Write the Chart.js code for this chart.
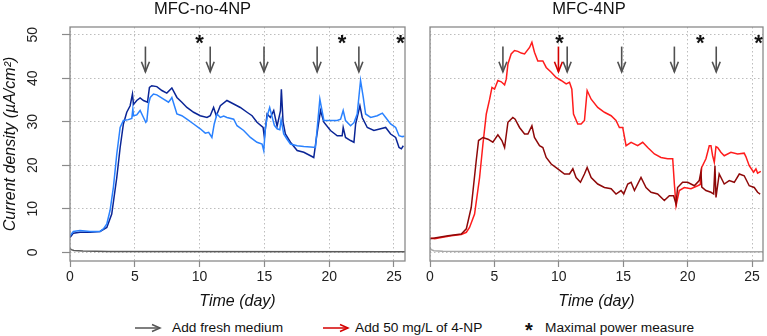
<!DOCTYPE html>
<html><head><meta charset="utf-8">
<script src="https://cdn.jsdelivr.net/npm/chart.js@4.4.1/dist/chart.umd.min.js"></script>
<style>
html,body{margin:0;padding:0;background:#fff;width:767px;height:336px;overflow:hidden;font-family:"Liberation Sans",Arial,sans-serif;}
canvas{position:absolute;top:0;}
#c1{left:0;}
#c2{left:415px;}
.li{position:absolute;top:319px;white-space:nowrap;line-height:17px;font-size:13.7px;color:#111;}
svg.la{position:absolute;top:323px;}
</style></head><body>
<canvas id="c1" width="415" height="312"></canvas>
<canvas id="c2" width="352" height="312"></canvas>
<svg class="la" style="left:134px" width="28" height="10"><line x1="1" y1="5" x2="26" y2="5" stroke="#555" stroke-width="1.5"/><path d="M18 1.5 L26 5 L18 8.5" fill="none" stroke="#555" stroke-width="1.5"/></svg>
<div class="li" style="left:172px">Add fresh medium</div>
<svg class="la" style="left:322px" width="28" height="10"><line x1="1" y1="5" x2="26" y2="5" stroke="#d40000" stroke-width="1.5"/><path d="M18 1.5 L26 5 L18 8.5" fill="none" stroke="#d40000" stroke-width="1.5"/></svg>
<div class="li" style="left:355px">Add 50 mg/L of 4-NP</div>
<div class="li" style="left:525px;font-size:20px;font-weight:bold;top:322px">*</div>
<div class="li" style="left:545px">Maximal power measure</div>
<script>
// ---------- data (day, current density µA/cm²) ----------
const xTicks = [0, 5, 10, 15, 20, 25];
const yTicks = [0, 10, 20, 30, 40, 50];

const noNP_lightBlue = [[0,3.8],[0.26,4.8],[0.77,5.0],[1.55,4.8],[2.32,4.8],[2.58,5.4],[2.84,6.5],[3.09,9.6],[3.35,15],[3.61,22.6],[3.87,28.7],[4.12,30.3],[4.5,30.5],[4.77,30.8],[4.85,33],[4.9,31.4],[5.15,31.6],[5.41,32.6],[5.67,31],[5.85,29.9],[5.93,30.2],[6.06,34.1],[6.19,35.6],[6.44,36.4],[6.7,36.2],[7.22,35.2],[7.6,34.5],[7.73,35],[7.86,35.6],[8.25,31.8],[8.63,31.4],[9.02,30.6],[9.54,29.5],[10.05,28.4],[10.44,27.4],[10.7,27.6],[10.95,26.4],[11.13,29.5],[11.34,31.8],[11.6,31],[11.86,31.3],[12.11,31],[12.63,30.6],[12.89,29.1],[13.4,28],[13.92,26.4],[14.43,25.3],[14.82,24.9],[14.95,23.4],[15.08,28.7],[15.26,31.8],[15.41,33.3],[15.59,31.2],[15.77,29.2],[15.98,28.4],[16.19,28.2],[16.29,30.5],[16.49,27.2],[16.75,26],[17.01,24.9],[17.53,24.5],[18.04,24.3],[18.56,24.2],[18.94,24.1],[19.07,28.4],[19.28,35.2],[19.59,30.3],[20.1,30.3],[20.62,30.3],[20.88,30.6],[21.08,32.6],[21.26,30.3],[21.65,29.1],[21.91,29.8],[22.16,31.8],[22.42,39.5],[22.63,35.6],[22.81,31.8],[23.2,31],[23.71,31.4],[24.1,32],[24.36,31],[24.74,29.5],[25.13,28.7],[25.39,26.8],[25.64,26.6],[25.8,26.7]];

const noNP_darkBlue = [[0,3.4],[0.26,4.4],[0.77,4.6],[1.55,4.6],[2.32,4.8],[2.84,5.7],[3.22,8.8],[3.61,17.2],[3.87,24.1],[4.12,29.5],[4.38,32.2],[4.64,33.7],[4.82,36.4],[4.9,34],[5.15,34.9],[5.41,35.5],[5.67,34.9],[5.98,34.5],[6.13,37.9],[6.31,38.3],[6.7,38.1],[7.09,37.2],[7.47,36.6],[7.86,37.8],[8.25,35.6],[8.63,34.5],[9.02,33.3],[9.54,32.2],[10.05,31.4],[10.57,31],[10.82,31.4],[11.08,33.3],[11.29,31.4],[11.6,33.7],[12.11,34.9],[12.63,34.1],[13.14,33.3],[13.66,32.2],[14.05,31.4],[14.43,29.9],[14.9,28.7],[15.0,26.4],[15.21,31.8],[15.46,31.0],[15.72,32.6],[15.98,29],[16.24,32.5],[16.31,37.5],[16.44,30],[16.62,27.2],[17.01,25.3],[17.53,23.4],[18.04,23],[18.56,22.2],[18.81,21.8],[19.02,26.4],[19.33,32.6],[19.59,29.9],[20.1,28],[20.62,26.8],[21.0,26.8],[21.08,28.7],[21.26,26.4],[21.65,25.7],[21.91,25.3],[22.04,29.5],[22.37,33.7],[22.55,31],[22.94,28.7],[23.45,28],[23.97,28.4],[24.36,28.7],[24.74,27.2],[25.13,26.4],[25.39,24.1],[25.57,23.8],[25.72,24.5]];

const NP_red = [[0,3.3],[0.36,3.1],[0.88,3.4],[1.65,3.8],[2.43,4.1],[2.82,4.6],[3.07,5.7],[3.46,8.8],[3.85,17.2],[4.11,24.9],[4.37,31.8],[4.63,35.2],[4.81,37.9],[5.01,37.5],[5.27,39.5],[5.53,39.2],[5.79,38.5],[5.92,39.8],[6.05,43.3],[6.3,45.6],[6.56,46.4],[6.82,46.2],[7.08,45.8],[7.34,45.6],[7.73,47.1],[7.91,48.3],[8.11,46],[8.37,44],[8.76,44],[9.02,42.5],[9.41,41.4],[9.79,40.2],[10.18,39.5],[10.57,38.7],[10.83,39.1],[11.01,37.5],[11.14,31.8],[11.47,29.5],[11.73,29.5],[11.99,30.3],[12.2,37.2],[12.51,35.2],[13.02,33.3],[13.54,32.2],[14.06,31.4],[14.44,30.3],[14.7,28.7],[14.96,28.7],[15.22,24.5],[15.61,25.3],[16.12,24.5],[16.51,25.3],[16.9,24.1],[17.42,22.6],[17.93,21.8],[18.45,21.5],[18.84,21.5],[18.97,15.7],[19.1,10.7],[19.35,14.2],[19.74,14.9],[20.26,14.6],[20.78,15.3],[20.98,15.6],[21.09,19.5],[21.42,21.5],[21.68,24.5],[21.81,24.5],[21.94,22.2],[22.07,20.7],[22.2,24.3],[22.33,24.1],[22.58,23],[22.84,22.2],[23.36,23],[23.88,22.6],[24.39,22.8],[24.52,22],[24.78,19.9],[25.12,18.4],[25.3,19.2],[25.43,18.2],[25.68,18.6]];

const NP_darkRed = [[0,3.1],[0.36,3.3],[1.4,3.8],[2.43,4.2],[2.82,5.4],[3.2,10.3],[3.59,21.1],[3.77,25.7],[4.11,26.4],[4.5,26],[4.88,25.3],[5.27,27],[5.58,25.7],[5.79,24.1],[6.05,29.9],[6.43,31],[6.61,30.6],[6.95,28.7],[7.34,27.2],[7.6,27.2],[7.91,29.1],[8.11,26.4],[8.5,24.5],[8.76,24.1],[9.02,21.8],[9.41,20.3],[9.92,19.2],[10.44,18],[10.83,18],[11.09,19.2],[11.34,17.2],[11.68,16.1],[11.99,18],[12.2,19.5],[12.51,17.2],[13.02,15.7],[13.54,14.9],[14.06,14.6],[14.44,13.4],[14.83,14.2],[15.04,13.4],[15.35,15.7],[15.61,16.1],[15.87,14.2],[16.38,17.2],[16.77,14.9],[17.16,13.8],[17.67,13.4],[18.19,11.9],[18.58,13],[18.91,13],[19.1,11.1],[19.22,14.9],[19.61,16.1],[20.0,16.1],[20.52,15.3],[20.9,16.5],[21.03,18.5],[21.1,15],[21.42,14.2],[21.81,13.8],[22.02,13.4],[22.12,19.9],[22.2,12.6],[22.45,18],[22.84,15.7],[23.23,16.5],[23.62,16.1],[24.01,18],[24.39,17.6],[24.78,15.3],[25.17,14.9],[25.43,13.8],[25.63,13.4]];

const noNP_control = [[0,0.9],[0.1,0.6],[0.3,0.4],[1,0.3],[3,0.2],[25.85,0.15]];
const NP_control = [[0,1.0],[0.1,0.6],[0.3,0.35],[1,0.25],[3,0.2],[25.85,0.15]];

const noNP_freshDays = [5.82, 10.82, 14.97, 19.07, 22.29];
const noNP_starDays = [10.0, 21.0, 25.5];
const NP_freshDays = [5.66, 10.65, 14.88, 18.97, 22.22];
const NP_addDays = [9.97];
const NP_starDays = [10.05, 20.98, 25.5];

const arrowTop = 47.3, arrowTip = 41.5, starLevel = 49.4;
// --------------------------------------------------------

const FONT = '"Liberation Sans", Arial, sans-serif';
const pts = arr => arr.map(p => ({x: p[0], y: p[1]}));

function drawArrow(ctx, x, yTop, yTip, color) {
  ctx.strokeStyle = color; ctx.lineWidth = 1.6;
  ctx.beginPath(); ctx.moveTo(x, yTop); ctx.lineTo(x, yTip); ctx.stroke();
  ctx.beginPath(); ctx.moveTo(x - 4, yTip - 10); ctx.lineTo(x, yTip); ctx.lineTo(x + 4, yTip - 10); ctx.stroke();
}

const overlay = {
  id: 'overlay',
  afterDatasetsDraw(chart, args, o) {
    const {ctx, chartArea: a, scales: {x, y}} = chart;
    ctx.save();
    ctx.strokeStyle = '#8a8a8a'; ctx.lineWidth = 1.3;
    ctx.strokeRect(a.left, a.top, a.right - a.left, a.bottom - a.top);
    const yt = y.getPixelForValue(arrowTop), yp = y.getPixelForValue(arrowTip);
    (o.fresh || []).forEach(d => drawArrow(ctx, x.getPixelForValue(d), yt, yp, '#505050'));
    (o.add || []).forEach(d => drawArrow(ctx, x.getPixelForValue(d), yt, yp, '#d40000'));
    ctx.fillStyle = '#111'; ctx.font = 'bold 22px ' + FONT;
    ctx.textAlign = 'center'; ctx.textBaseline = 'alphabetic';
    (o.stars || []).forEach(d => ctx.fillText('*', x.getPixelForValue(d), y.getPixelForValue(starLevel) + 12.5));
    if (o.yLabels) {
      ctx.fillStyle = '#222'; ctx.font = '14px ' + FONT;
      ctx.textBaseline = 'middle';
      y.ticks.forEach(t => {
        ctx.save();
        ctx.translate(33, y.getPixelForValue(t.value));
        ctx.rotate(-Math.PI / 2);
        ctx.fillText(String(t.value), 0, 0);
        ctx.restore();
      });
    }
    ctx.restore();
  }
};

function makeChart(id, title, sets, ov, leftW, rightPad, yTitle) {
  return new Chart(document.getElementById(id), {
    type: 'line',
    data: { datasets: sets.map(s => ({
      data: pts(s.data), borderColor: s.color, borderWidth: s.w || 1.5,
      pointRadius: 0, tension: 0, fill: false
    })) },
    options: {
      responsive: false, animation: false, parsing: true,
      layout: { padding: { left: 0, right: rightPad, top: 0, bottom: 0 } },
      plugins: {
        legend: { display: false }, tooltip: { enabled: false },
        title: { display: true, text: title, color: '#111',
          font: { family: FONT, size: 16.5, weight: 'normal' }, padding: { top: 0, bottom: 7.2 } },
        overlay: ov
      },
      scales: {
        x: {
          type: 'linear', min: 0, max: 25.85,
          afterBuildTicks: s => { s.ticks = xTicks.map(v => ({ value: v })); },
          afterFit: s => { s.height = 51; },
          border: { display: false, dash: [1.5, 2.5] },
          grid: { color: '#bdbdbd', lineWidth: 1,
                  drawTicks: true, tickLength: 6, tickColor: '#8a8a8a', tickBorderDash: [], tickWidth: 1.2 },
          ticks: { color: '#222', font: { family: FONT, size: 14 }, padding: 2, maxRotation: 0 },
          title: { display: true, text: 'Time (day)', color: '#111',
                   font: { family: FONT, size: 16, style: 'italic' }, padding: { top: 0, bottom: 1 } }
        },
        y: {
          type: 'linear', min: -2, max: 51.8,
          afterBuildTicks: s => { s.ticks = yTicks.map(v => ({ value: v })); },
          afterFit: s => { s.width = leftW; },
          border: { display: false, dash: [1.5, 2.5] },
          grid: { color: '#bdbdbd', lineWidth: 1,
                  drawTicks: !!yTitle, tickLength: 8, tickColor: '#8a8a8a', tickBorderDash: [], tickWidth: 1.2 },
          ticks: { display: false },
          title: { display: !!yTitle, text: yTitle || '', color: '#111',
                   font: { family: FONT, size: 16, style: 'italic' }, padding: { top: 0.5, bottom: 0 } }
        }
      }
    },
    plugins: [overlay]
  });
}

makeChart('c1', 'MFC-no-4NP', [
  { data: noNP_control, color: '#5a5a5a' },
  { data: noNP_lightBlue, color: '#2a82ff' },
  { data: noNP_darkBlue, color: '#0a2596' }
], { fresh: noNP_freshDays, stars: noNP_starDays, yLabels: true }, 70, 10, 'Current density (µA/cm²)');

makeChart('c2', 'MFC-4NP', [
  { data: NP_control, color: '#a8a8a8' },
  { data: NP_darkRed, color: '#8e0808' },
  { data: NP_red, color: '#ff1c1c' }
], { fresh: NP_freshDays, add: NP_addDays, stars: NP_starDays, yLabels: false }, 15, 4, null);
</script>
</body></html>
